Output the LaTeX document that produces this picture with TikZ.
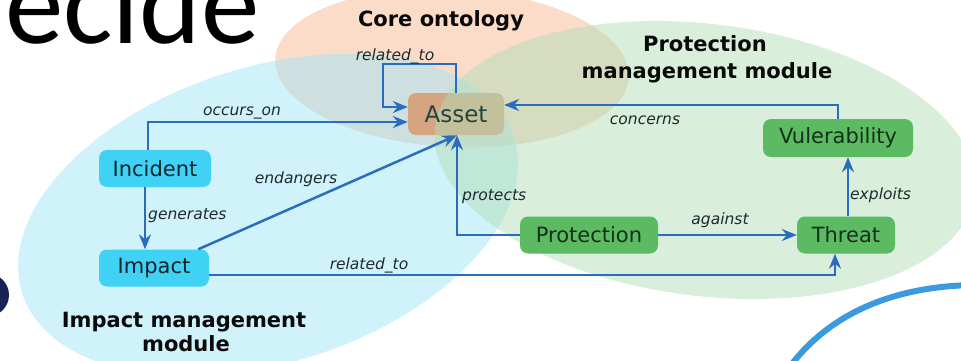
\documentclass[tikz,border=0pt]{standalone}
\usepackage{fontspec}
\setmainfont{DejaVu Sans}
\newfontfamily\slidefont{Carlito}
\usepackage{xcolor}
\usetikzlibrary{arrows.meta}

\definecolor{linkblue}{HTML}{2A6CBE}
\definecolor{coreback}{HTML}{F7B993}
\definecolor{impactback}{HTML}{A1E5F5}
\definecolor{protback}{HTML}{B3DDB7}
\definecolor{impactnode}{HTML}{3FD2F4}
\definecolor{protnode}{HTML}{5CBA62}
\definecolor{assetnode}{HTML}{D4A580}
\definecolor{impacttext}{HTML}{10242E}
\definecolor{prottext}{HTML}{12301A}
\definecolor{assettext}{HTML}{22443E}
\definecolor{lbltext}{HTML}{1E2A2C}
\definecolor{titletext}{HTML}{0A0A0A}
\definecolor{navyblob}{HTML}{1A2358}
\definecolor{slideblue}{HTML}{3A9AE0}

\begin{document}
\begin{tikzpicture}[x=1pt, y=-1pt,
	module/.style={fill opacity=0.5},
	concept/.style={rounded corners=8pt, minimum height=37pt, inner sep=0pt,
		font=\fontsize{21}{25}\selectfont},
	impactbox/.style={concept, fill=impactnode, text=impacttext},
	protbox/.style={concept, fill=protnode, text=prottext},
	link/.style={draw=linkblue, line width=2.5pt, -{Stealth[length=15pt, width=12pt, inset=5pt]}},
	lbl/.style={font=\fontsize{15.5}{18}\selectfont\itshape, text=lbltext, inner sep=0pt, anchor=base},
	title/.style={font=\fontsize{21}{24}\selectfont\bfseries, text=titletext, inner sep=0pt, anchor=base}
	]

	\useasboundingbox (0,0) rectangle (961,361);
	\clip (0,0) rectangle (961,361);

	% what is left of the slide around the diagram
	\node[anchor=base west, inner sep=0pt, font=\slidefont\fontsize{117}{120}\selectfont] (slidetitle) at (5,44) {ecide};
	\fill[navyblob] (-12.5,295) circle [radius=21.5];
	\draw[slideblue, line width=6pt] (786,372) .. controls (825,316) and (890,286) .. (975,285);

	% modules
	\fill[coreback, module, rotate around={-3:(452,68)}] (452,68) ellipse [x radius=177, y radius=79]; % core ontology
	\fill[impactback, module, rotate around={17.6:(268,215)}] (268,215) ellipse [x radius=258, y radius=148]; % impact
	\node[concept, fill=assetnode, minimum width=96pt, minimum height=42pt] (asset) at (456,114) {};
	\fill[protback, module, rotate around={-7:(705,160)}] (705,160) ellipse [x radius=272, y radius=136]; % protection

	\node[title] (coreTitle) at (441,27) {Core ontology};
	\node[title] (protTitleA) at (705,52) {Protection};
	\node[title] (protTitleB) at (707,78) {management module};
	\node[title] (impactTitleA) at (184,327) {Impact management};
	\node[title] (impactTitleB) at (186,351) {module};

	% concepts
	\node[font=\fontsize{23}{26}\selectfont, text=assettext, inner sep=0pt] (assetlabel) at (asset) {Asset};
	\node[impactbox, minimum width=112pt] (incident) at (155,168.5) {Incident};
	\node[impactbox, minimum width=110pt] (impact) at (154,268) {Impact};
	\node[protbox, minimum width=138pt] (protection) at (589,235) {Protection};
	\node[protbox, minimum width=98pt] (threat) at (846,235) {Threat};
	\node[protbox, minimum width=150pt, minimum height=38pt] (vul) at (838,138) {Vulerability};

	% relations
	\coordinate (loopcorner) at (383,64);
	\draw[link] (asset.north) |- (loopcorner) |- ([yshift=7pt]asset.west);
	\node[lbl] (lblLoop) at (395,60) {related\_to};

	\draw[link] ([xshift=-7pt]incident.north) |- ([yshift=-8pt]asset.west);
	\node[lbl] (lblOccurs) at (242,115) {occurs\_on};

	\draw[link] ([xshift=-10pt]incident.south) -- ([xshift=-10pt]incident.south |- impact.north);
	\node[lbl, anchor=base west] (lblGenerates) at (148,219) {generates};

	\draw[link] ([xshift=-11pt]impact.north east) -- ([xshift=1pt]asset.south);
	\node[lbl] (lblEndangers) at (296,183) {endangers};

	\draw[link] (protection.west) -| ([xshift=1pt]asset.south);
	\node[lbl, anchor=base west] (lblProtects) at (462,200) {protects};

	\draw[link] (protection.east) -- (threat.west);
	\node[lbl] (lblAgainst) at (720,224) {against};

	\draw[link] ([xshift=2pt]threat.north) -- ([xshift=2pt]threat.north |- vul.south);
	\node[lbl, anchor=base west] (lblExploits) at (850,199) {exploits};

	\draw[link] (vul.north) |- ([yshift=9pt]asset.east);
	\node[lbl] (lblConcerns) at (645,124) {concerns};

	\draw[link] ([yshift=-7pt]impact.east) -| ([xshift=-11pt]threat.south);
	\node[lbl] (lblRelated) at (369,269) {related\_to};

\end{tikzpicture}
\end{document}
